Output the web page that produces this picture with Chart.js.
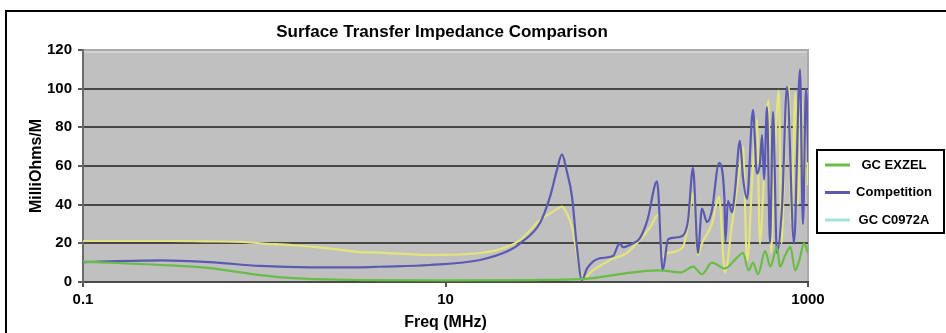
<!DOCTYPE html>
<html>
<head>
<meta charset="utf-8">
<script src="https://cdn.jsdelivr.net/npm/chart.js@4.4.1/dist/chart.umd.min.js"></script>
<style>
  html, body { margin: 0; padding: 0; background: #ffffff; }
  #wrap { width: 946px; height: 333px; }
</style>
</head>
<body>
<div id="wrap"><canvas id="chart" width="946" height="333"></canvas></div>
<script>
// Frequencies in MHz and impedance in milliohms per metre for each cable
const freqExzel = [0.1, 0.27, 0.5, 0.95, 1.44, 3.4, 10, 30, 56, 65, 100, 150, 200, 232, 260, 295, 348, 400, 438, 470, 497, 530, 580, 620, 674, 700, 750, 800, 850, 900, 950, 1000];
const valExzel  = [10.5, 8.8, 7.2, 3.6, 2, 1, 0.8, 1, 1.5, 2, 4.6, 6, 5, 8, 4, 10, 7, 12, 15, 6, 10, 4, 16, 8, 18, 8, 14, 18, 6, 12, 20, 15];

const freqCompetition = [0.1, 0.27, 0.5, 0.95, 1.8, 3.4, 4.35, 8.2, 15.5, 22.7, 25.8, 33.2, 37.7, 41.2, 43.9, 46.5, 49.9, 53.1, 56.6, 60.4, 71.2, 84, 89.5, 92, 95, 108, 118, 130, 147, 158, 169, 185, 204, 218, 232, 247, 260, 277, 295, 323, 346, 350, 362, 381, 396, 421, 438, 461, 497, 523, 543, 558, 572, 594, 617, 641, 674, 720, 766, 837, 903, 938, 975, 990, 1000];
const valCompetition  = [10.3, 11.2, 10.3, 8.3, 7.6, 7.6, 7.9, 8.8, 11.4, 16.5, 20, 30.5, 44, 58, 66, 58, 44, 18, 1, 7, 12.3, 13.4, 19, 20, 18, 20, 22.6, 32, 52, 6, 22, 23, 24, 32, 59, 15, 38, 31, 37, 61.5, 43, 21, 42, 36, 47.6, 73, 54, 43, 89, 56, 61.5, 76, 53, 90.5, 20, 88, 15, 40, 101, 20, 110, 30, 100, 88, 62];

const freqC0972A = [0.1, 0.3, 0.5, 0.76, 0.95, 1.44, 2.2, 3.38, 4.35, 8.2, 15.5, 20, 25.8, 33.2, 40, 43.9, 47, 49.9, 55.2, 58, 65, 81, 100, 118, 134, 150, 158, 169, 204, 218, 232, 247, 260, 295, 323, 348, 381, 421, 438, 461, 497, 523, 543, 572, 605, 625, 650, 690, 715, 745, 785, 810, 850, 880, 920, 950, 985, 1000];
const valC0972A  = [21.2, 21.2, 21, 20.7, 20, 19, 17.5, 15.5, 15.2, 14, 15, 17, 21.7, 32, 37, 39, 35, 28.5, 6, 2, 6, 11.4, 15, 21.7, 28, 35, 13, 15, 18, 30, 46, 14, 20, 30, 44, 5, 30, 60, 70, 11, 60, 84, 20, 55, 94, 15, 55, 99, 20, 70, 101, 30, 98, 40, 96, 45, 88, 50];

const seriesNames  = ['GC EXZEL', 'Competition', 'GC C0972A'];
const seriesLines  = ['#68bd45', '#5a5ab2', '#e4e47c'];
const seriesKeys   = ['#68bd45', '#5a5ab2', '#a6e0da'];

const xTickValues = [0.1, 10, 1000];
const yTickMax = 120;
const yTickStep = 20;

const FONT = '"Liberation Sans", Arial, Helvetica, sans-serif';

function toPoints(fs, vs) {
  return fs.map((f, i) => ({ x: f, y: vs[i] }));
}

// Page frame, plot background and the boxed legend
const decor = {
  id: 'decor',
  beforeDraw(chart) {
    const { ctx, chartArea: a } = chart;
    ctx.save();
    ctx.fillStyle = '#ffffff';
    ctx.fillRect(0, 0, chart.width, chart.height);
    ctx.strokeStyle = '#000000';
    ctx.lineWidth = 2;
    ctx.beginPath();
    ctx.moveTo(6, 333);
    ctx.lineTo(6, 11);
    ctx.lineTo(946, 11);
    ctx.stroke();
    ctx.fillStyle = '#c0c0c0';
    ctx.fillRect(a.left, a.top, a.right - a.left, a.bottom - a.top);
    ctx.fillStyle = '#d2d2d2';
    ctx.fillRect(a.left, a.top, a.right - a.left, 3);
    ctx.strokeStyle = '#a9a9a9';
    ctx.lineWidth = 2;
    ctx.strokeRect(a.left, a.top, a.right - a.left, a.bottom - a.top);
    ctx.restore();
  },
  afterDraw(chart) {
    const { ctx } = chart;
    ctx.save();
    // title
    ctx.fillStyle = '#000000';
    ctx.font = 'bold 17px ' + FONT;
    ctx.textAlign = 'center';
    ctx.textBaseline = 'middle';
    ctx.fillText('Surface Transfer Impedance Comparison', 442, 32);
    // legend
    ctx.fillStyle = '#ffffff';
    ctx.fillRect(817, 150, 127, 83);
    ctx.strokeStyle = '#000000';
    ctx.lineWidth = 2;
    ctx.strokeRect(817, 150, 127, 83);
    const rows = [165, 192.5, 220];
    chart.data.datasets.forEach((ds, i) => {
      const y = rows[i];
      ctx.strokeStyle = seriesKeys[i];
      ctx.lineWidth = 3;
      ctx.beginPath();
      ctx.moveTo(825, y);
      ctx.lineTo(850, y);
      ctx.stroke();
      ctx.fillStyle = '#000000';
      ctx.font = 'bold 13px ' + FONT;
      ctx.textAlign = 'center';
      ctx.fillText(ds.label, 894, y);
    });
    ctx.restore();
  }
};

new Chart(document.getElementById('chart'), {
  type: 'line',
  data: {
    datasets: [
      { label: seriesNames[0], data: toPoints(freqExzel, valExzel), borderColor: seriesLines[0] },
      { label: seriesNames[1], data: toPoints(freqCompetition, valCompetition), borderColor: seriesLines[1] },
      { label: seriesNames[2], data: toPoints(freqC0972A, valC0972A), borderColor: seriesLines[2] }
    ]
  },
  options: {
    responsive: false,
    animation: false,
    layout: { padding: { left: 27, top: 50, right: 138, bottom: 0 } },
    elements: {
      line: { borderWidth: 2.2, cubicInterpolationMode: 'monotone', fill: false },
      point: { radius: 0 }
    },
    plugins: {
      legend: { display: false },
      title: { display: false },
      tooltip: { enabled: false }
    },
    scales: {
      x: {
        type: 'logarithmic',
        min: 0.1,
        max: 1000,
        afterBuildTicks(scale) { scale.ticks = xTickValues.map(v => ({ value: v })); },
        afterFit(scale) { scale.height = 51; },
        ticks: {
          color: '#000000',
          font: { family: FONT, size: 15, weight: 'bold' },
          padding: 4,
          maxRotation: 0,
          autoSkip: false,
          callback: (v) => String(v)
        },
        grid: { drawOnChartArea: false, drawTicks: true, tickLength: 5, tickColor: '#555555', lineWidth: 2 },
        border: { display: true, color: '#4a4a4a', width: 2 },
        title: {
          display: true,
          text: 'Freq (MHz)',
          color: '#000000',
          font: { family: FONT, size: 16, weight: 'bold' },
          padding: { top: 0, bottom: 1 }
        }
      },
      y: {
        min: 0,
        max: yTickMax,
        afterFit(scale) { scale.width = 56; },
        ticks: {
          stepSize: yTickStep,
          color: '#000000',
          font: { family: FONT, size: 15, weight: 'bold' },
          padding: 6
        },
        grid: {
          color: (c) => (c.tick && c.tick.value === yTickMax) ? 'rgba(0,0,0,0)' : '#474747',
          lineWidth: 2,
          tickLength: 5,
          tickColor: '#5a5a5a'
        },
        border: { display: true, color: '#6a6a6a', width: 2 },
        title: {
          display: true,
          text: 'MilliOhms/M',
          color: '#000000',
          font: { family: FONT, size: 16, weight: 'bold' },
          padding: { top: 0, bottom: 0 }
        }
      }
    }
  },
  plugins: [decor]
});
</script>
</body>
</html>
